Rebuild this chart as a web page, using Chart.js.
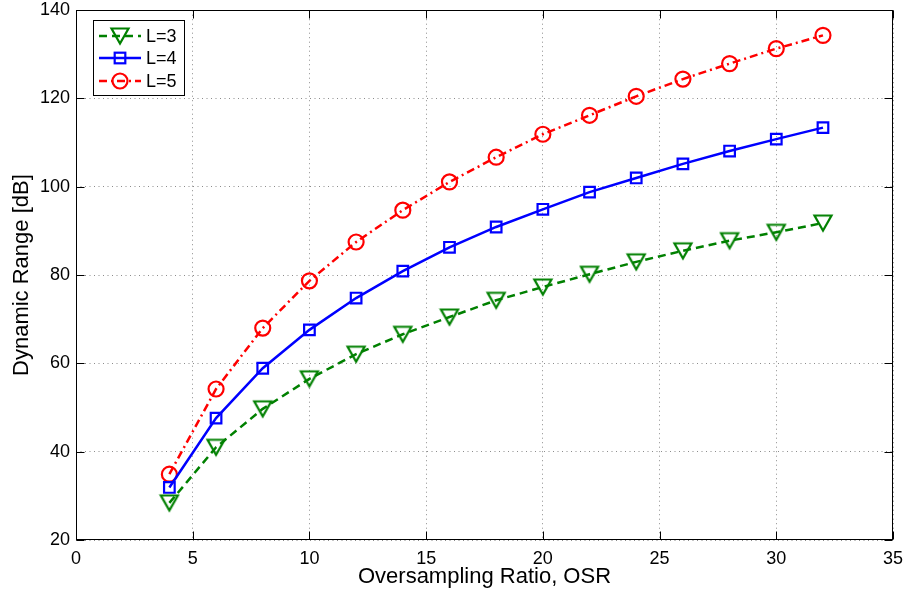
<!DOCTYPE html>
<html>
<head>
<meta charset="utf-8">
<script src="https://cdn.jsdelivr.net/npm/chart.js@4.4.1/dist/chart.umd.min.js"></script>
<style>
  html, body { margin: 0; padding: 0; background: #ffffff; }
  #wrap { width: 909px; height: 594px; }
</style>
</head>
<body>
<div id="wrap"><canvas id="c" width="909" height="594"></canvas></div>
<script>
// Oversampling ratios (x values shared by all curves)
const osr = [4, 6, 8, 10, 12, 14, 16, 18, 20, 22, 24, 26, 28, 30, 32];

// Dynamic range [dB] for each modulator order L
const seriesNames = ['L=3', 'L=4', 'L=5'];
const drL3 = [28.4, 41.0, 49.7, 56.5, 62.1, 66.6, 70.5, 74.3, 77.3, 80.2, 83.0, 85.5, 87.8, 89.7, 91.8];
const drL4 = [31.9, 47.6, 58.9, 67.6, 74.8, 80.9, 86.3, 90.9, 94.9, 98.8, 102.0, 105.2, 108.1, 110.8, 113.4];
const drL5 = [34.9, 54.2, 68.0, 78.7, 87.5, 94.7, 101.1, 106.7, 111.9, 116.2, 120.5, 124.4, 127.9, 131.3, 134.3];

// Axis ticks
const xTicks = [0, 5, 10, 15, 20, 25, 30, 35];
const yTicks = [20, 40, 60, 80, 100, 120, 140];

const FONT = "'Liberation Sans', Arial, Helvetica, sans-serif";
const GREEN = '#008000', BLUE = '#0000ff', RED = '#ff0000';

// Hollow downward triangle marker
function triangleDown(color) {
  const c = document.createElement('canvas');
  c.width = 22; c.height = 22;
  const g = c.getContext('2d');
  g.strokeStyle = color;
  g.lineWidth = 2.2;
  g.lineJoin = 'miter';
  g.beginPath();
  g.moveTo(2.5, 3.5);
  g.lineTo(19.5, 3.5);
  g.lineTo(11, 18.5);
  g.closePath();
  g.stroke();
  return c;
}
const triMarker = triangleDown(GREEN);

const toPoints = ys => osr.map((x, i) => ({ x: x, y: ys[i] }));

const datasets = [
  {
    label: seriesNames[0], data: toPoints(drL3),
    borderColor: GREEN, borderWidth: 2.5, borderDash: [8, 5],
    pointStyle: triMarker, pointRadius: 8,
    pointBorderColor: GREEN, pointBackgroundColor: 'rgba(0,0,0,0)', pointBorderWidth: 2.2
  },
  {
    label: seriesNames[1], data: toPoints(drL4),
    borderColor: BLUE, borderWidth: 2.5, borderDash: [],
    pointStyle: 'rect', pointRadius: 7.5,
    pointBorderColor: BLUE, pointBackgroundColor: 'rgba(0,0,0,0)', pointBorderWidth: 2.2
  },
  {
    label: seriesNames[2], data: toPoints(drL5),
    borderColor: RED, borderWidth: 2.5, borderDash: [8, 4, 2, 4],
    pointStyle: 'circle', pointRadius: 7.5,
    pointBorderColor: RED, pointBackgroundColor: 'rgba(0,0,0,0)', pointBorderWidth: 2.2
  }
];

// Axes box, inward tick marks on all four sides, and the legend
const framePlugin = {
  id: 'frame',
  afterDraw(chart) {
    const ctx = chart.ctx;
    const a = chart.chartArea;
    const xs = chart.scales.x, ys = chart.scales.y;
    const L = Math.round(a.left) + 0.5, R = Math.round(a.right) - 0.5;
    const T = Math.round(a.top) + 0.5, B = Math.round(a.bottom) - 0.5;
    const tick = 8;
    ctx.save();
    ctx.strokeStyle = '#000';
    ctx.lineWidth = 1;
    ctx.setLineDash([]);
    ctx.strokeRect(L, T, R - L, B - T);
    ctx.beginPath();
    xs.ticks.forEach(t => {
      const px = Math.round(xs.getPixelForValue(t.value)) + 0.5;
      ctx.moveTo(px, B); ctx.lineTo(px, B - tick);
      ctx.moveTo(px, T); ctx.lineTo(px, T + tick);
    });
    ys.ticks.forEach(t => {
      const py = Math.round(ys.getPixelForValue(t.value)) + 0.5;
      ctx.moveTo(L, py); ctx.lineTo(L + tick, py);
      ctx.moveTo(R, py); ctx.lineTo(R - tick, py);
    });
    ctx.stroke();

    // Legend
    const bx = 93.5, by = 20.5, bw = 91, bh = 75;
    ctx.fillStyle = '#fff';
    ctx.fillRect(bx, by, bw, bh);
    ctx.strokeStyle = '#000';
    ctx.strokeRect(bx, by, bw, bh);
    const rows = [36, 58, 81];
    chart.data.datasets.forEach((ds, i) => {
      const y = rows[i];
      ctx.strokeStyle = ds.borderColor;
      ctx.lineWidth = ds.borderWidth;
      ctx.setLineDash(ds.borderDash || []);
      ctx.beginPath();
      ctx.moveTo(99, y); ctx.lineTo(141, y);
      ctx.stroke();
      ctx.setLineDash([]);
      ctx.lineWidth = ds.pointBorderWidth;
      const mx = 120;
      if (ds.pointStyle === 'circle') {
        ctx.beginPath();
        ctx.arc(mx, y, ds.pointRadius, 0, Math.PI * 2);
        ctx.stroke();
      } else if (ds.pointStyle === 'rect') {
        const s = ds.pointRadius * Math.SQRT1_2;
        ctx.strokeRect(mx - s, y - s, 2 * s, 2 * s);
      } else {
        const img = ds.pointStyle;
        ctx.drawImage(img, mx - img.width / 2, y - img.height / 2);
      }
      ctx.fillStyle = '#000';
      ctx.font = '18px ' + FONT;
      ctx.textAlign = 'left';
      ctx.textBaseline = 'middle';
      ctx.fillText(ds.label, 146, y + 1);
    });
    ctx.restore();
  }
};

new Chart(document.getElementById('c'), {
  type: 'line',
  data: { datasets: datasets },
  options: {
    responsive: false,
    animation: false,
    devicePixelRatio: 1,
    layout: { padding: { top: 10, right: 16, left: 0, bottom: 0 } },
    plugins: { legend: { display: false }, tooltip: { enabled: false } },
    elements: { line: { tension: 0 } },
    scales: {
      x: {
        type: 'linear', min: 0, max: 35,
        afterBuildTicks: s => { s.ticks = xTicks.map(v => ({ value: v })); },
        afterFit: s => { s.height = 54; s.paddingLeft = 0; s.paddingRight = 0; },
        border: { display: false, dash: [1, 3.5] },
        grid: { color: 'rgba(0,0,0,0.45)', drawTicks: false, lineWidth: 1 },
        ticks: { padding: 8, color: '#000', font: { family: FONT, size: 18 }, maxRotation: 0 },
        title: { display: true, text: 'Oversampling Ratio, OSR', color: '#000',
                 font: { family: FONT, size: 22 }, padding: { top: 0, bottom: 4 } }
      },
      y: {
        type: 'linear', min: 20, max: 140,
        afterBuildTicks: s => { s.ticks = yTicks.map(v => ({ value: v })); },
        afterFit: s => { s.width = 76; s.paddingTop = 0; s.paddingBottom = 0; },
        border: { display: false, dash: [1, 3.5] },
        grid: { color: 'rgba(0,0,0,0.45)', drawTicks: false, lineWidth: 1 },
        ticks: { padding: 6, color: '#000', font: { family: FONT, size: 18 } },
        title: { display: true, text: 'Dynamic Range [dB]', color: '#000',
                 font: { family: FONT, size: 22 }, padding: { top: 9, bottom: 0 } }
      }
    }
  },
  plugins: [framePlugin]
});
</script>
</body>
</html>
